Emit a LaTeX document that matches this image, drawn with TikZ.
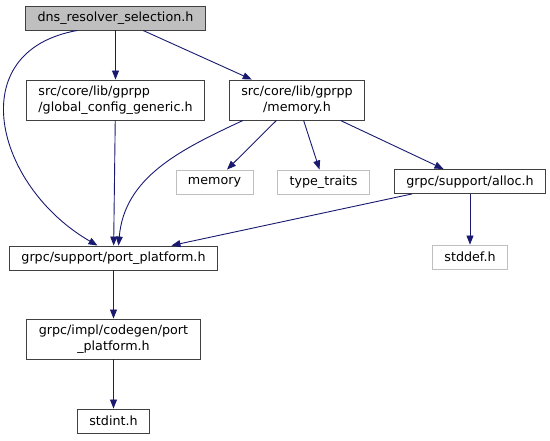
\documentclass[tikz,border=0pt]{standalone}
\usepackage{fontspec}
\setmainfont{DejaVu Sans}
\usetikzlibrary{arrows.meta, positioning}
\definecolor{edgeblue}{HTML}{191970}
\definecolor{rootgray}{HTML}{BFBFBF}
\definecolor{boxline}{HTML}{404040}

\begin{document}
\begin{tikzpicture}[x=1pt, y=1pt, node distance=82pt, on grid,
	file/.style={rectangle, draw=boxline, line width=0.9pt, inner xsep=12pt, inner ysep=2pt,
		minimum height=24pt, font=\fontsize{12.7}{15.5}\selectfont},
	twoline/.style={file, minimum height=40pt},
	sysfile/.style={file, draw=rootgray},
	dep/.style={color=edgeblue, line width=0.9pt, -{Triangle[length=9pt, width=7pt]}}]
	\useasboundingbox (0,0) rectangle (550,440);
	\node[file, fill=rootgray] (root) at (115.5,422) {dns\_resolver\_selection.h};
	\node[twoline, below = of root, align=left] (gcg) {src/core/lib/gprpp\\/global\_config\_generic.h};
	\node[twoline, right = 181.5pt of gcg, align=center] (mem) {src/core/lib/gprpp\\/memory.h};
	\node[sysfile, below left = 82pt and 82.5pt of mem] (memory) {memory};
	\node[sysfile, below right = 82pt and 26.5pt of mem] (ttraits) {type\_traits};
	\node[file, below right = 81.5pt and 173pt of mem] (alloc) {grpc/support/alloc.h};
	\node[file, below = 158pt of gcg, xshift=-2pt] (pp) {grpc/support/port\_platform.h};
	\node[sysfile, below = 75.5pt of alloc] (stddef) {stddef.h};
	\node[twoline, below = 81pt of pp, align=center] (codegen) {grpc/impl/codegen/port\\\_platform.h};
	\node[file, below = of codegen] (stdint) {stdint.h};
	
	\path[dep] (root) edge (gcg)
	(root) edge (mem)
	([xshift=-38pt]root.south) edge[out=190, in=150, looseness=1.4] ([xshift=-16pt]pp.north)
	(gcg) edge (pp)
	([xshift=-54pt]mem.south) edge[out=205, in=85] ([xshift=5pt]pp.north)
	(mem) edge (memory)
	(mem) edge (ttraits)
	(mem) edge (alloc)
	(alloc) edge (pp)
	(alloc) edge (stddef)
	(pp) edge (codegen)
	(codegen) edge (stdint);
\end{tikzpicture}
\end{document}
